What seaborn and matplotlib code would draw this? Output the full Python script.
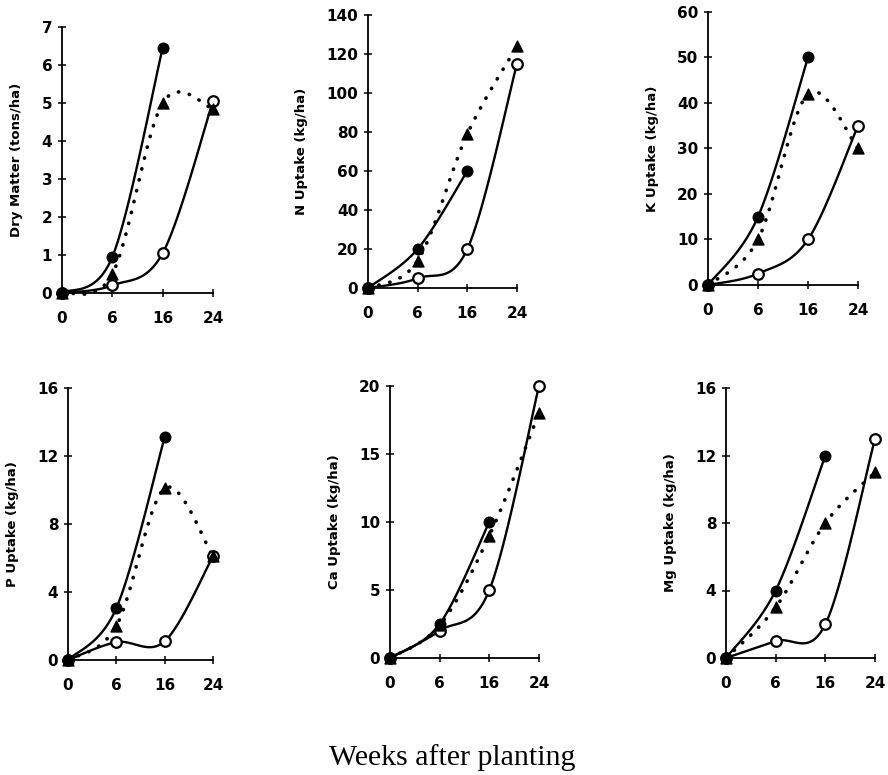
import numpy as np
import matplotlib
matplotlib.use("Agg")
import matplotlib.pyplot as plt
import seaborn as sns

# x categories (equally spaced on the chart)
weeks = ["0", "6", "16", "24"]

# filled circles (stop at week 16), open circles, filled triangles (dotted)
dry_filled = [0, 0.95, 6.45]
dry_open = [0, 0.2, 1.05, 5.05]
dry_tri = [0, 0.5, 5.0, 4.85]

n_filled = [0, 20, 60]
n_open = [0, 5, 20, 115]
n_tri = [0, 14, 79, 124]

k_filled = [0, 15, 50]
k_open = [0, 2.5, 10, 35]
k_tri = [0, 10, 42, 30]

p_filled = [0, 3.05, 13.1]
p_open = [0, 1.05, 1.1, 6.1]
p_tri = [0, 2.0, 10.1, 6.1]

ca_filled = [0, 2.5, 10]
ca_open = [0, 2.0, 5.0, 20]
ca_tri = [0, 2.4, 9.0, 18]

mg_filled = [0, 4, 12]
mg_open = [0, 1, 2, 13]
mg_tri = [0, 3, 8, 11]

ylabels = ["Dry Matter (tons/ha)", "N Uptake (kg/ha)", "K Uptake (kg/ha)",
           "P Uptake (kg/ha)", "Ca Uptake (kg/ha)", "Mg Uptake (kg/ha)"]
yticks = [np.arange(0, 8, 1), np.arange(0, 141, 20), np.arange(0, 61, 10),
          np.arange(0, 17, 4), np.arange(0, 21, 5), np.arange(0, 17, 4)]
series = [(dry_filled, dry_open, dry_tri), (n_filled, n_open, n_tri),
          (k_filled, k_open, k_tri), (p_filled, p_open, p_tri),
          (ca_filled, ca_open, ca_tri), (mg_filled, mg_open, mg_tri)]

# axes boxes in pixels: left, right, top, bottom
boxes = [(62, 213, 27, 293), (368, 517, 15, 288), (708, 858, 12, 285),
         (68, 213, 388, 660), (390, 539, 386, 658), (726, 875, 388, 658)]

W, H = 888, 775


def smooth(ys, sx, sy, n=40):
    # Excel-like smoothed line (Catmull-Rom style bezier) in screen space
    pts = np.column_stack([np.arange(len(ys)) * sx, np.array(ys, float) * sy])
    out = [pts[0]]
    t = np.linspace(0, 1, n)[1:, None]
    for i in range(len(pts) - 1):
        p0 = pts[i - 1] if i > 0 else pts[i]
        p1, p2 = pts[i], pts[i + 1]
        p3 = pts[i + 2] if i + 2 < len(pts) else pts[i + 1]
        c1 = p1 + (p2 - p0) / 6
        c2 = p2 - (p3 - p1) / 6
        seg = (1 - t) ** 3 * p1 + 3 * (1 - t) ** 2 * t * c1 + 3 * (1 - t) * t ** 2 * c2 + t ** 3 * p2
        out.extend(seg)
    out = np.array(out)
    return out[:, 0] / sx, out[:, 1] / sy


sns.set_style("ticks")
plt.rcParams["font.family"] = ["DejaVu Sans"]
plt.rcParams["text.color"] = "black"
plt.rcParams["axes.labelcolor"] = "black"
plt.rcParams["xtick.color"] = "black"
plt.rcParams["ytick.color"] = "black"

fig = plt.figure(figsize=(W / 100, H / 100), dpi=100)

for (l, r, t, b), lab, ticks, (filled, opn, tri) in zip(boxes, ylabels, yticks, series):
    ax = fig.add_axes([l / W, 1 - b / H, (r - l) / W, (b - t) / H])
    ymax = ticks[-1]
    sx = (r - l) / 3
    sy = (b - t) / ymax

    for ys, ls in [(filled, "-"), (opn, "-"), (tri, (0, (0.1, 3.0)))]:
        xs_s, ys_s = smooth(ys, sx, sy)
        sns.lineplot(x=xs_s, y=ys_s, sort=False, estimator=None, ax=ax,
                     color="black", linewidth=1.7 if ls == "-" else 2.6,
                     linestyle=ls, dash_capstyle="round", clip_on=False)

    ax.scatter(np.arange(len(opn)), opn, s=58, facecolor="white",
               edgecolor="black", linewidth=1.6, zorder=4, clip_on=False)
    ax.scatter(np.arange(len(tri)), tri, s=62, marker="^", color="black",
               zorder=5, clip_on=False)
    ax.scatter(np.arange(len(filled)), filled, s=58, color="black",
               zorder=6, clip_on=False)

    ax.set_xlim(0, 3)
    ax.set_ylim(0, ymax)
    ax.set_xticks(range(4))
    ax.set_xticklabels(weeks)
    ax.set_yticks(ticks)
    ax.set_ylabel(lab, fontsize=9.5, fontweight="bold", labelpad=13)
    ax.tick_params(direction="inout", length=6, width=1.1, labelsize=11,
                   color="black", labelcolor="black")
    ax.tick_params(axis="x", pad=10)
    ax.tick_params(axis="y", pad=4)
    for lbl in ax.get_xticklabels() + ax.get_yticklabels():
        lbl.set_fontweight("bold")
    for side in ["top", "right"]:
        ax.spines[side].set_visible(False)
    for side in ["left", "bottom"]:
        ax.spines[side].set_linewidth(1.3)
        ax.spines[side].set_color("black")

fig.text(452 / W, 1 - 758 / H, "Weeks after planting", ha="center", va="center",
         fontsize=21.5, color="black", family=["Liberation Serif", "DejaVu Serif"])

fig.savefig("out.png", dpi=100)
